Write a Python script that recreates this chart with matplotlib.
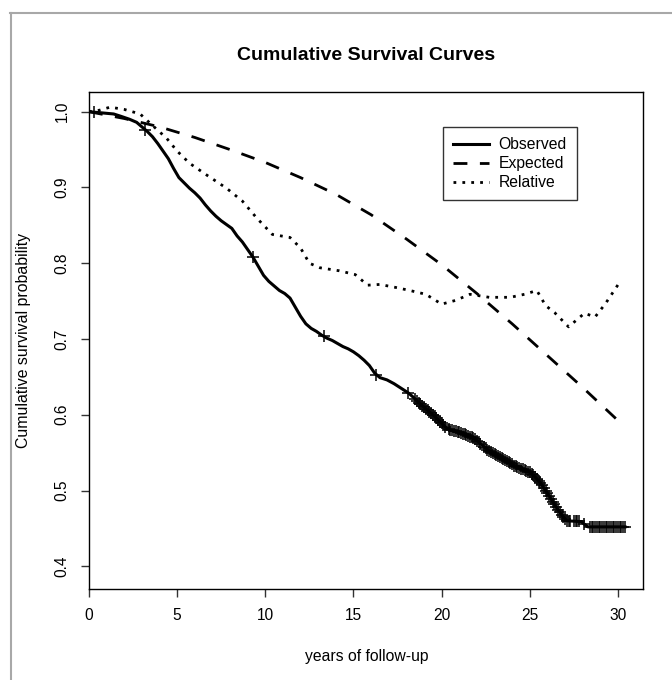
import numpy as np
import matplotlib
matplotlib.use("Agg")
import matplotlib.pyplot as plt
from matplotlib.lines import Line2D

plt.rcParams["font.family"] = ["Liberation Sans", "DejaVu Sans"]

# observed survival
obs_time = [0.0, 1.4, 1.8, 2.3, 2.7, 3.0, 3.3, 3.6, 3.9, 4.2, 4.5, 4.8, 5.1, 5.4,
            5.7, 6.0, 6.3, 6.6, 6.9, 7.2, 7.5, 7.8, 8.1, 8.4, 8.7, 9.0, 9.3, 9.6,
            9.9, 10.2, 10.5, 10.8, 11.1, 11.4, 11.7, 12.0, 12.3, 12.6, 12.9, 13.2,
            13.5, 13.8, 14.1, 14.4, 14.7, 15.0, 15.3, 15.6, 15.9, 16.2, 16.5, 16.9,
            17.3, 17.7, 18.1, 18.4, 18.7, 19.0, 19.3, 19.6, 19.9, 20.2, 20.5, 20.8,
            21.1, 21.4, 21.7, 22.0, 22.3, 22.6, 22.9, 23.2, 23.5, 23.8, 24.1, 24.4,
            24.7, 25.0, 25.3, 25.6, 25.9, 26.2, 26.5, 26.8, 27.1, 27.9, 28.3, 30.4]
obs_surv = [1.000, 0.997, 0.994, 0.990, 0.986, 0.980, 0.974, 0.967, 0.958, 0.948,
            0.938, 0.925, 0.913, 0.906, 0.899, 0.893, 0.886, 0.877, 0.869, 0.862,
            0.856, 0.851, 0.846, 0.836, 0.828, 0.818, 0.808, 0.796, 0.784, 0.776,
            0.770, 0.764, 0.760, 0.754, 0.742, 0.730, 0.720, 0.714, 0.710, 0.705,
            0.701, 0.698, 0.694, 0.690, 0.687, 0.683, 0.678, 0.672, 0.665, 0.655,
            0.649, 0.646, 0.641, 0.635, 0.629, 0.623, 0.616, 0.610, 0.604, 0.598,
            0.591, 0.584, 0.580, 0.578, 0.576, 0.573, 0.570, 0.566, 0.560, 0.554,
            0.549, 0.545, 0.541, 0.537, 0.533, 0.530, 0.527, 0.524, 0.518, 0.510,
            0.500, 0.489, 0.478, 0.468, 0.460, 0.459, 0.452, 0.452]

# censoring times (the "+" marks)
censor_time = [0.3, 3.2, 9.3, 13.3, 16.3, 18.1, 18.5, 18.6, 18.7, 18.8, 18.9, 19.0,
               19.1, 19.2, 19.3, 19.4, 19.5, 19.6, 19.7, 19.8, 19.9, 20.0, 20.1,
               20.2, 20.4, 20.5, 20.6, 20.7, 20.8, 20.9, 21.0, 21.1, 21.2, 21.3,
               21.4, 21.5, 21.6, 21.7, 21.8, 21.9, 22.0, 22.1, 22.2, 22.4, 22.5,
               22.6, 22.7, 22.8, 22.9, 23.0, 23.1, 23.2, 23.3, 23.4, 23.5, 23.6,
               23.7, 23.8, 23.9, 24.0, 24.1, 24.2, 24.3, 24.4, 24.5, 24.6, 24.7,
               24.8, 24.9, 25.0, 25.1, 25.2, 25.3, 25.4, 25.5, 25.6, 25.7, 25.8,
               25.9, 26.0, 26.1, 26.2, 26.3, 26.4, 26.5, 26.6, 26.7, 26.8, 26.9,
               27.0, 27.1, 27.2, 27.3, 27.5, 27.6, 27.7, 27.8, 28.1, 28.4, 28.5,
               28.6, 28.7, 28.8, 28.9, 29.0, 29.1, 29.2, 29.3, 29.4, 29.5, 29.6,
               29.7, 29.8, 29.9, 30.0, 30.1, 30.2, 30.3, 30.4]

# expected survival
exp_time = [0, 2, 4, 6, 8, 10, 12, 14, 16, 18, 20, 22, 24, 26, 28, 30.2]
exp_surv = [1.000, 0.991, 0.980, 0.966, 0.950, 0.933, 0.913, 0.891, 0.864, 0.832,
            0.798, 0.760, 0.720, 0.678, 0.636, 0.588]

# relative survival
rel_time = [0, 0.6, 1.2, 2.0, 2.9, 3.5, 4.4, 5.0, 5.7, 6.7, 7.8, 8.7, 9.5, 10.4,
            11.4, 12.0, 12.5, 13.1, 14.2, 15.1, 15.8, 16.5, 17.4, 18.2, 19.1, 20.0,
            20.8, 21.6, 22.7, 23.9, 24.7, 25.4, 25.9, 26.4, 27.2, 27.7, 28.1, 28.7,
            29.3, 30.1]
rel_surv = [1.000, 1.002, 1.006, 1.003, 0.997, 0.984, 0.965, 0.948, 0.932, 0.916,
            0.899, 0.882, 0.860, 0.838, 0.834, 0.820, 0.800, 0.794, 0.790, 0.785,
            0.771, 0.772, 0.768, 0.764, 0.759, 0.746, 0.751, 0.759, 0.755, 0.755,
            0.759, 0.764, 0.744, 0.735, 0.716, 0.726, 0.734, 0.729, 0.747, 0.775]

x_ticks = [0, 5, 10, 15, 20, 25, 30]
y_ticks = [0.4, 0.5, 0.6, 0.7, 0.8, 0.9, 1.0]
W, H = 672, 680

fig = plt.figure(figsize=(W / 100, H / 100), dpi=100)
ax = fig.add_axes([89 / W, 1 - 589 / H, (643 - 89) / W, (589 - 92) / H])

ax.plot(obs_time, obs_surv, color="black", lw=2.2, label="Observed")
# survival value at each censoring time, looked up on the observed curve
ax.plot(censor_time, np.interp(censor_time, obs_time, obs_surv), ls="none",
        marker="+", ms=9, mew=1.1, color="black")
ax.plot(exp_time, exp_surv, color="black", lw=2.0, dashes=(5, 4.5),
        dash_capstyle="butt", label="Expected")
ax.plot(rel_time, rel_surv, color="black", lw=2.0, dashes=(1, 2.2),
        dash_capstyle="butt", label="Relative")

ax.set_xlim(0, 31.42)
ax.set_ylim(0.370, 1.026)
ax.set_xticks(x_ticks)
ax.set_xticklabels([str(v) for v in x_ticks])
ax.set_yticks(y_ticks)
ax.set_yticklabels([f"{v:.1f}" for v in y_ticks], rotation=90, va="center")
ax.tick_params(length=6, width=1, labelsize=11.2, color="#333333")
ax.tick_params(axis="x", pad=8)
ax.tick_params(axis="y", pad=8)
for s in ax.spines.values():
    s.set_linewidth(1.0)

leg = ax.legend(loc="upper left", bbox_to_anchor=((443 - 89) / 554, (589 - 127) / 497),
                fontsize=11.3, frameon=True, fancybox=False, handlelength=2.3,
                handletextpad=0.6, labelspacing=0.25, borderpad=0.65,
                borderaxespad=0)
leg.get_frame().set_edgecolor("black")
leg.get_frame().set_linewidth(1.0)

fig.text(366 / W, 1 - 55 / H, "Cumulative Survival Curves", ha="center",
         va="center", fontsize=14, fontweight="bold")
fig.text(367 / W, 1 - 657 / H, "years of follow-up", ha="center", va="center",
         fontsize=11.3)
fig.text(24 / W, 1 - 340 / H, "Cumulative survival probability", ha="center",
         va="center", rotation=90, fontsize=11.4)

# window frame seen at the left and top of the screenshot
fig.add_artist(Line2D([10.5 / W, 10.5 / W], [0, 1 - 13 / H], color="#a8a8a8", lw=1.5))
fig.add_artist(Line2D([10 / W, 1], [1 - 13 / H, 1 - 13 / H], color="#a8a8a8", lw=1.5))

fig.savefig("out.png", dpi=100)
